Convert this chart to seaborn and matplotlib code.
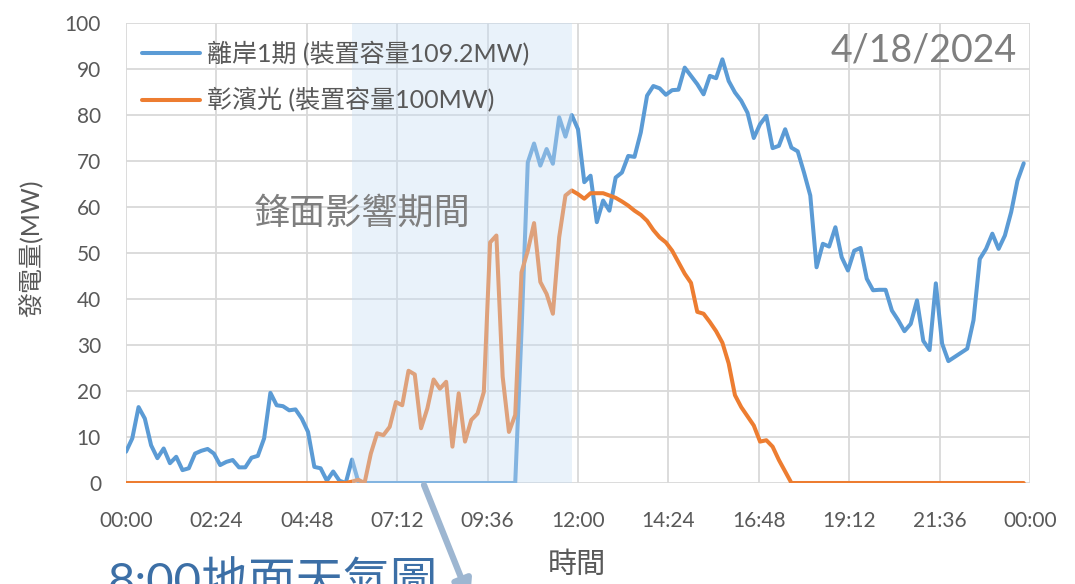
import matplotlib
matplotlib.use('Agg')
import matplotlib.pyplot as plt
import numpy as np
import pandas as pd
import seaborn as sns

sns.set_theme(style='whitegrid', rc={'grid.color': '#d9d9d9', 'grid.linewidth': 1.3})
plt.rcParams['font.family'] = ['Lato', 'Noto Sans CJK TC', 'DejaVu Sans']

# 10-minute samples, 00:00 .. 23:50
minutes = np.arange(0, 1440, 10)

offshore = [
    6.8, 9.7, 16.5, 14.0, 8.2, 5.4,
    7.5, 4.3, 5.7, 2.8, 3.2, 6.4,
    7.0, 7.4, 6.4, 3.9, 4.6, 5.0,
    3.4, 3.4, 5.5, 5.9, 9.7, 19.6,
    16.9, 16.7, 15.8, 16.0, 14.0, 11.1,
    3.5, 3.2, 0.5, 2.5, 0.5, 0.0,
    5.1, 0.3, 0.0, 0.0, 0.0, 0.0,
    0.0, 0.0, 0.0, 0.0, 0.0, 0.0,
    0.0, 0.0, 0.0, 0.0, 0.0, 0.0,
    0.0, 0.0, 0.0, 0.0, 0.0, 0.0,
    0.0, 0.0, 0.0, 33.0, 69.7, 73.8,
    69.0, 72.6, 69.4, 79.5, 75.3, 80.0,
    76.9, 65.4, 66.8, 56.7, 61.4, 59.2,
    66.4, 67.5, 71.1, 70.9, 76.2, 84.2,
    86.3, 85.8, 84.4, 85.4, 85.5, 90.3,
    88.5, 86.7, 84.5, 88.5, 88.0, 92.1,
    87.4, 84.9, 83.1, 80.5, 75.0, 78.0,
    79.8, 72.8, 73.3, 76.9, 72.9, 72.1,
    67.5, 62.5, 46.9, 52.0, 51.4, 55.6,
    49.1, 46.2, 50.5, 51.1, 44.4, 41.9,
    42.0, 42.0, 37.5, 35.4, 33.0, 34.6,
    39.7, 30.9, 28.9, 43.4, 30.3, 26.5,
    27.4, 28.3, 29.2, 35.4, 48.7, 50.9,
    54.2, 50.9, 53.8, 58.9, 65.7, 69.5,
]

changbin = [0.0] * 36 + [
    0.3, 0.7, 0.0, 6.4, 10.8, 10.4,
    12.2, 17.6, 16.9, 24.4, 23.6, 11.9,
    16.2, 22.5, 20.5, 22.0, 7.9, 19.5,
    9.0, 13.7, 15.1, 19.8, 52.3, 53.8,
    23.1, 11.1, 14.8, 45.8, 50.5, 56.5,
    43.7, 41.1, 36.8, 53.4, 62.5, 63.6,
    62.8, 61.8, 63.0, 63.0, 63.0, 62.5,
    62.0, 61.2, 60.3, 59.2, 58.3, 57.0,
    55.0, 53.4, 52.3, 50.5, 48.0, 45.5,
    43.5, 37.2, 36.8, 35.0, 33.0, 30.5,
    26.0, 19.1, 16.5, 14.5, 12.5, 9.0,
    9.3, 7.9, 5.0, 2.5, 0.0, 0.0,
] + [0.0] * 36

tick_labels = ['00:00', '02:24', '04:48', '07:12', '09:36', '12:00',
               '14:24', '16:48', '19:12', '21:36', '00:00']
front_start, front_end = 6.0, 11.83  # 鋒面影響期間 (hours)

df = pd.DataFrame({'hour': minutes / 60, 'offshore': offshore, 'changbin': changbin})

fig = plt.figure(figsize=(10.75, 5.84), dpi=100)
ax = fig.add_axes([126 / 1075, 1 - 483 / 584, (1030 - 126) / 1075, (483 - 23) / 584])

sns.lineplot(data=df, x='hour', y='offshore', ax=ax, color='#5b9bd5', lw=2.9,
             label='離岸1期 (裝置容量109.2MW)')
sns.lineplot(data=df, x='hour', y='changbin', ax=ax, color='#ed7d31', lw=2.9,
             label='彰濱光 (裝置容量100MW)')

# shaded front period drawn on top so the lines look washed out
ax.axvspan(front_start, front_end, color='#c6ddf4', alpha=0.38, lw=0, zorder=3)

ax.set_xlim(0, 24)
ax.set_ylim(0, 100)
ax.set_xticks(np.linspace(0, 24, 11))
ax.set_xticklabels(tick_labels)
ax.set_yticks(np.arange(0, 101, 10))
ax.tick_params(axis='both', length=0, labelsize=15, labelcolor='#595959')
ax.tick_params(axis='x', pad=20)
ax.tick_params(axis='y', pad=18)
for s in ax.spines.values():
    s.set_visible(False)
ax.set_xlabel('')
ax.set_ylabel('')

leg = ax.legend(loc='upper left', bbox_to_anchor=(-0.007, 1.01), frameon=False,
                fontsize=18, handlelength=2.3, handletextpad=0.28, labelspacing=0.85)
for t in leg.get_texts():
    t.set_color('#595959')

ax.text(0.985, 0.94, '4/18/2024', transform=ax.transAxes, ha='right', va='center',
        fontsize=27, color='#7f7f7f')
ax.text(362 / 1075, 1 - 213 / 584, '鋒面影響期間', transform=fig.transFigure,
        ha='center', va='center', fontsize=26, color='#7f7f7f')

fig.text(577 / 1075, 1 - 565 / 584, '時間', ha='center', va='center',
         fontsize=21, color='#595959')
fig.text(30 / 1075, 1 - 248 / 584, '發電量(MW)', ha='center', va='center',
         rotation=90, fontsize=18, color='#595959')

fig.text(108 / 1075, 1 - 596 / 584, '8:00地面天氣圖', ha='left', va='baseline',
         fontsize=34, color='#3c6fa6')
ax.annotate('', xy=(470 / 1075, 1 - 600 / 584), xycoords='figure fraction',
            xytext=(424 / 1075, 1 - 485 / 584), textcoords='figure fraction',
            arrowprops=dict(arrowstyle='-|>', color='#9db6d1', lw=4.5,
                            mutation_scale=28, shrinkA=0, shrinkB=0),
            annotation_clip=False, zorder=10)

fig.savefig('out.png', dpi=100)
